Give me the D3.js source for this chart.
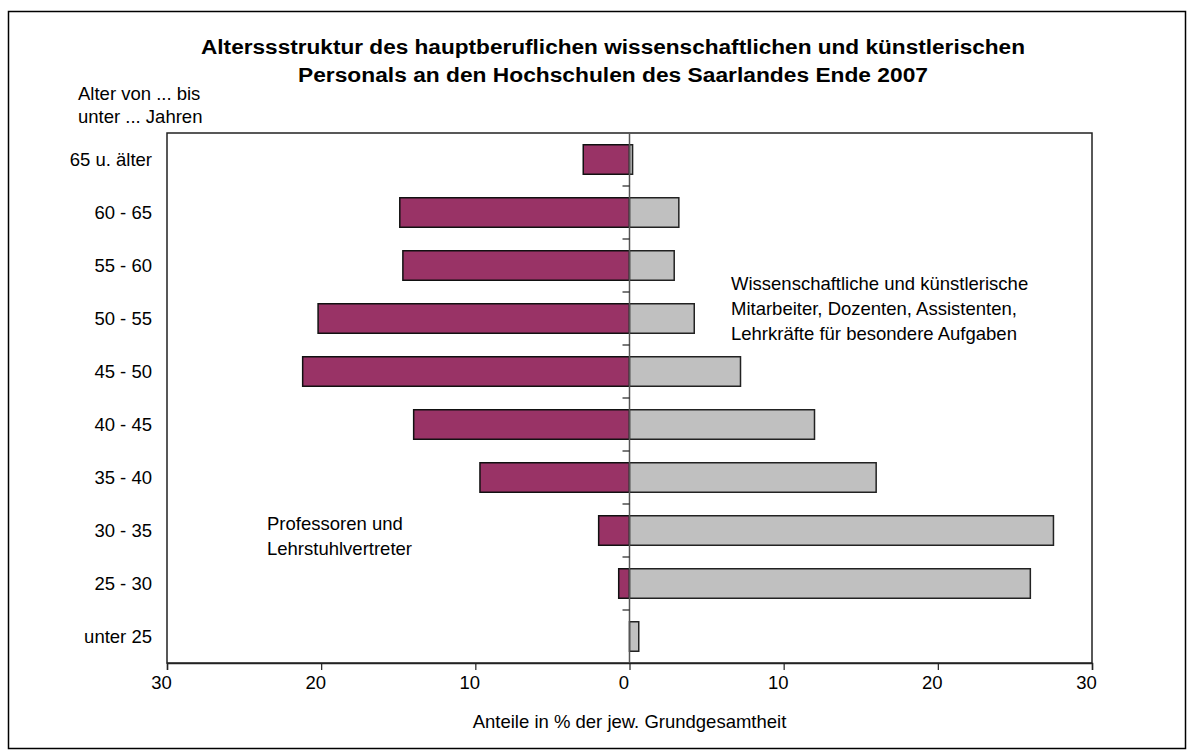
<!DOCTYPE html>
<html>
<head>
<meta charset="utf-8">
<script src="https://cdn.jsdelivr.net/npm/d3@7"></script>
<style>
  html, body { margin: 0; padding: 0; background: #fff; }
  svg { display: block; font-family: "Liberation Sans", Arial, sans-serif; }
</style>
</head>
<body>
<svg id="chart" width="1195" height="751"></svg>
<script>
const categories = ["65 u. älter", "60 - 65", "55 - 60", "50 - 55", "45 - 50", "40 - 45", "35 - 40", "30 - 35", "25 - 30", "unter 25"];
const professoren = [3.0, 14.9, 14.7, 20.2, 21.2, 14.0, 9.7, 2.0, 0.7, 0];
const mitarbeiter = [0.2, 3.2, 2.9, 4.2, 7.2, 12.0, 16.0, 27.5, 26.0, 0.6];
const xTicks = [-30, -20, -10, 0, 10, 20, 30];
const titleLines = ["Altersstruktur des hauptberuflichen wissenschaftlichen und künstlerischen".replace("Alters", "Alterss"), "Personals an den Hochschulen des Saarlandes Ende 2007"];
const yAxisTitle = ["Alter von ... bis", "unter ... Jahren"];
const xAxisTitle = "Anteile in % der jew. Grundgesamtheit";
const profLabel = ["Professoren und", "Lehrstuhlvertreter"];
const mitLabel = ["Wissenschaftliche und künstlerische", "Mitarbeiter, Dozenten, Assistenten,", "Lehrkräfte für besondere Aufgaben"];

const svg = d3.select("#chart");
const plot = { left: 167, right: 1092, top: 133, bottom: 663 };
const x = d3.scaleLinear().domain([-30, 30]).range([plot.left, plot.right]);
const y = d3.scaleBand().domain(categories).range([plot.top, plot.bottom]).padding(0);
const barH = 29.5;
const fs = 18.5;

// outer frame
svg.append("rect").attr("x", 8.5).attr("y", 11.5).attr("width", 1177).attr("height", 737)
  .attr("fill", "#fff").attr("stroke", "#000").attr("stroke-width", 1.5);

// title
svg.append("text").attr("x", 613).attr("y", 54).attr("text-anchor", "middle")
  .attr("font-size", 20).attr("font-weight", "bold")
  .attr("textLength", 824).attr("lengthAdjust", "spacingAndGlyphs").text(titleLines[0]);
svg.append("text").attr("x", 613).attr("y", 82).attr("text-anchor", "middle")
  .attr("font-size", 20).attr("font-weight", "bold")
  .attr("textLength", 630).attr("lengthAdjust", "spacingAndGlyphs").text(titleLines[1]);

// y axis title
yAxisTitle.forEach((t, i) => {
  svg.append("text").attr("x", 78).attr("y", 100 + i * 22.5).attr("font-size", fs).text(t);
});

// plot area border
svg.append("rect").attr("x", plot.left).attr("y", plot.top)
  .attr("width", plot.right - plot.left).attr("height", plot.bottom - plot.top)
  .attr("fill", "#fff").attr("stroke", "#222").attr("stroke-width", 1.5);

// bars - Professoren (left)
const data = categories.map((c, i) => ({ c, p: professoren[i], m: mitarbeiter[i] }));
svg.append("g").selectAll("rect").data(data.filter(d => d.p > 0)).join("rect")
  .attr("x", d => x(-d.p)).attr("width", d => x(0) - x(-d.p))
  .attr("y", d => y(d.c) + (y.bandwidth() - barH) / 2).attr("height", barH)
  .attr("fill", "#993366").attr("stroke", "#111").attr("stroke-width", 1.5);

// bars - Mitarbeiter (right)
svg.append("g").selectAll("rect").data(data.filter(d => d.m > 0)).join("rect")
  .attr("x", x(0)).attr("width", d => x(d.m) - x(0))
  .attr("y", d => y(d.c) + (y.bandwidth() - barH) / 2).attr("height", barH)
  .attr("fill", "#c0c0c0").attr("stroke", "#222").attr("stroke-width", 1.5);

// zero category axis with ticks at boundaries
const zeroAxis = svg.append("g");
zeroAxis.append("line").attr("x1", x(0)).attr("x2", x(0)).attr("y1", plot.top).attr("y2", plot.bottom)
  .attr("stroke", "#555").attr("stroke-width", 1.5);
zeroAxis.selectAll("line.tk").data(categories.slice(1)).join("line").attr("class", "tk")
  .attr("x1", x(0) - 7).attr("x2", x(0)).attr("y1", d => y(d)).attr("y2", d => y(d))
  .attr("stroke", "#222").attr("stroke-width", 1.2);

// category labels
svg.append("g").selectAll("text").data(categories).join("text")
  .attr("x", 152).attr("y", d => y(d) + y.bandwidth() / 2 + 6.5)
  .attr("text-anchor", "end").attr("font-size", fs).text(d => d);

// x axis
const xAxis = d3.axisBottom(x).tickValues(xTicks).tickSize(7).tickFormat(d => Math.abs(d));
const gx = svg.append("g").attr("transform", `translate(0,${plot.bottom})`).call(xAxis);
gx.select(".domain").attr("stroke", "#222").attr("stroke-width", 1.5);
gx.selectAll(".tick line").attr("stroke", "#222").attr("stroke-width", 1.2);
gx.selectAll(".tick text").attr("font-size", fs).attr("font-family", "Liberation Sans, Arial, sans-serif")
  .attr("fill", "#000").attr("dx", -6).attr("y", 13).attr("dy", "0.71em");

// x axis title
svg.append("text").attr("x", x(0)).attr("y", 728).attr("text-anchor", "middle")
  .attr("font-size", fs).text(xAxisTitle);

// annotations
profLabel.forEach((t, i) => {
  svg.append("text").attr("x", 267).attr("y", 530 + i * 25).attr("font-size", fs).text(t);
});
mitLabel.forEach((t, i) => {
  svg.append("text").attr("x", 731).attr("y", 290 + i * 25).attr("font-size", fs).text(t);
});
</script>
</body>
</html>
